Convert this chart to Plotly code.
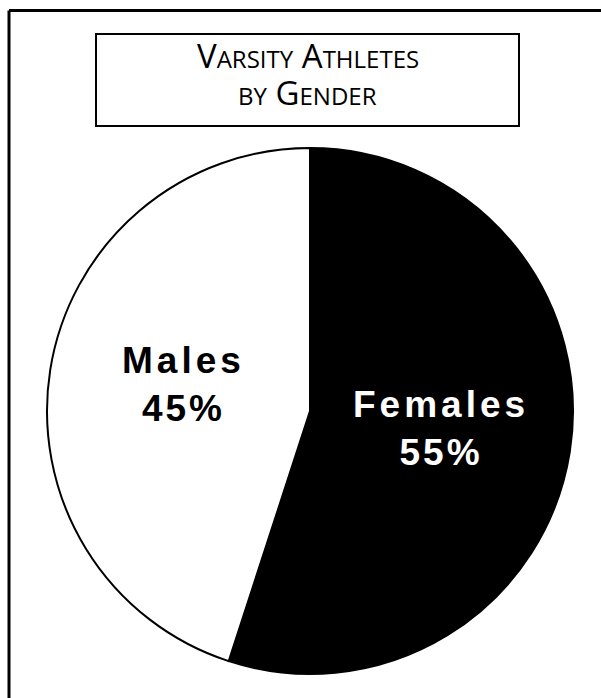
import plotly.graph_objects as go

labels = ["Females", "Males"]
values = [55, 45]
title_lines = [("V", "ARSITY", "A", "THLETES"), ("", "BY", "G", "ENDER")]

W, H = 601, 698

def px(x):
    return x / W

def py(y):
    return 1 - y / H

fig = go.Figure()
fig.add_trace(go.Pie(
    labels=labels,
    values=values,
    sort=False,
    direction="clockwise",
    rotation=0,
    marker=dict(colors=["#000000", "#ffffff"], line=dict(color="#000000", width=2)),
    textinfo="none",
    hoverinfo="label+percent",
    showlegend=False,
    domain=dict(x=[px(47), px(573)], y=[py(674), py(148)]),
))

# label annotations (text from data)
label_pos = {"Females": (441, 428, "#ffffff"), "Males": (183, 384, "#000000")}
for lab, val in zip(labels, values):
    x, y, col = label_pos[lab]
    fig.add_annotation(
        x=px(x), y=py(y), xref="paper", yref="paper",
        text=(f"<span style='letter-spacing:4px'><b>{lab}</b></span><br>"
              f"<span style='letter-spacing:3px'><b>{val}%</b></span>"),
        showarrow=False,
        font=dict(family="Liberation Sans, Arial", size=37, color=col),
        align="center", xanchor="center", yanchor="middle",
    )

# small-caps title, one annotation per line
sc = "font-size:24px"
baselines = [68, 105]
for (c1, r1, c2, r2), base in zip(title_lines, baselines):
    part1 = (c1 + f"<span style='{sc}'>{r1}</span>")
    part2 = (c2 + f"<span style='{sc}'>{r2}</span>")
    fig.add_annotation(
        x=px(307.5), y=py(base + 12), xref="paper", yref="paper",
        text=part1 + " " + part2, showarrow=False,
        font=dict(family="Open Sans", size=33, color="#000000"),
        align="center", xanchor="center", yanchor="bottom",
    )

# frame (left and top edges visible) and title box
fig.add_shape(type="line", xref="paper", yref="paper",
              x0=px(9), y0=py(10.5), x1=px(620), y1=py(10.5),
              line=dict(color="#000000", width=3))
fig.add_shape(type="line", xref="paper", yref="paper",
              x0=px(9), y0=py(10.5), x1=px(9), y1=py(720),
              line=dict(color="#000000", width=3))
fig.add_shape(type="rect", xref="paper", yref="paper",
              x0=px(96), y0=py(126), x1=px(519), y1=py(34),
              line=dict(color="#000000", width=2), fillcolor="rgba(0,0,0,0)")

fig.update_layout(
    width=W, height=H,
    margin=dict(l=0, r=0, t=0, b=0),
    paper_bgcolor="#ffffff",
    plot_bgcolor="#ffffff",
)

fig.write_html("out.html", config={"displayModeBar": False},
               post_script="document.body.style.margin='0';")
